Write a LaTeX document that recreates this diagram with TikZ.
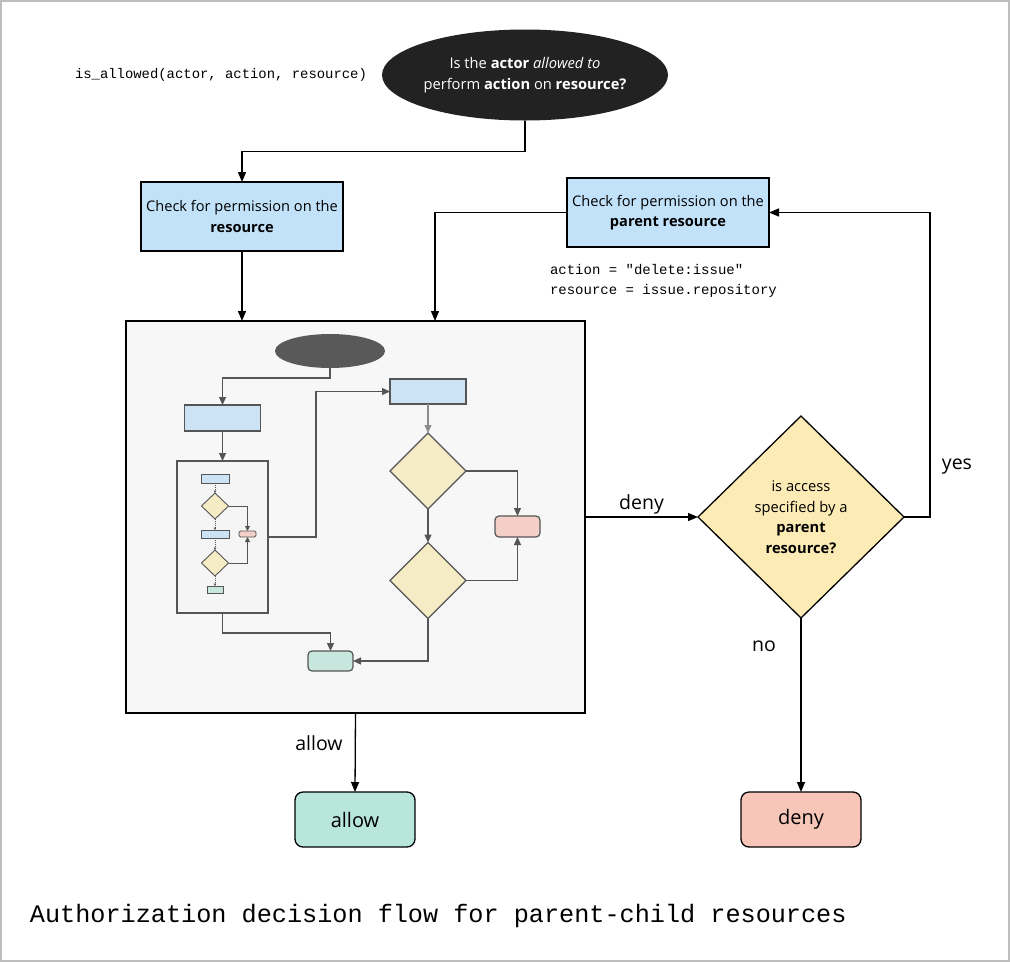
\documentclass[tikz,border=0pt]{standalone}
\usepackage{fontspec}
\setmainfont{Open Sans}
\setmonofont{Liberation Mono}
\usetikzlibrary{shapes.geometric,arrows.meta,calc}
\definecolor{bluebox}{HTML}{C2E2FA}
\definecolor{yellowdia}{HTML}{FDEBB5}
\definecolor{allowfill}{HTML}{B8E6DA}
\definecolor{denyfill}{HTML}{F8C6B8}
\definecolor{bigbg}{HTML}{F7F7F7}
\definecolor{iblue}{HTML}{CCE2F5}
\definecolor{iyellow}{HTML}{F5EBC4}
\definecolor{ired}{HTML}{F3CFC7}
\definecolor{igreen}{HTML}{C6E6DE}
\definecolor{istroke}{HTML}{555555}
\definecolor{frame}{HTML}{BDBDBD}
\begin{document}
\begin{tikzpicture}[x=1pt,y=-1pt,
  every node/.style={inner sep=0pt, outer sep=0pt},
  arr/.style={line width=1.3pt, draw=black, -{Triangle[length=10pt,width=8pt]}},
  mainbox/.style={rectangle, draw=black, line width=1.3pt, fill=bluebox, minimum width=202pt, minimum height=69pt, align=center, font=\fontsize{14.6}{20.5}\selectfont},
  endbox/.style={rectangle, rounded corners=8pt, draw=black, line width=1.3pt, minimum width=120pt, minimum height=55pt, font=\fontsize{20}{24}\selectfont},
  lbl/.style={font=\fontsize{19.5}{23}\selectfont},
  code/.style={font=\ttfamily\fontsize{14}{20}\selectfont, align=left, anchor=west},
  iarr/.style={line width=1.2pt, draw=istroke, -{Triangle[length=8pt,width=7pt]}},
  ismall/.style={line width=0.9pt, draw=istroke, -{Triangle[length=5pt,width=5pt]}},
  idot/.style={line width=0.6pt, draw=istroke, dash pattern=on 1pt off 1pt, -{Triangle[length=2.5pt,width=2.5pt]}},
  irect/.style={rectangle, draw=istroke, line width=1.2pt},
  idia/.style={diamond, draw=istroke, line width=1.2pt, fill=iyellow}
]
\useasboundingbox (0,0) rectangle (1010,962);
\draw[frame, line width=2pt] (1,1) rectangle (1009,961);

% top question
\node[ellipse, fill={rgb,255:red,34;green,34;blue,34}, minimum width=286pt, minimum height=91pt] (q) at (525,75) {};
\node[text=white, align=center, font=\fontsize{14.7}{21}\selectfont] (qt) at (525,75) {Is the \textbf{actor} \textit{allowed to}\\perform \textbf{action} on \textbf{resource?}};
\node[code, font=\ttfamily\fontsize{13.9}{16}\selectfont] (sig) at (75,75) {is\_allowed(actor, action, resource)};

% check boxes
\node[mainbox] (b1) at (242,216.5) {Check for permission on the\\\textbf{resource}};
\node[mainbox] (b2) at (668,212.5) {Check for permission on the\\\textbf{parent resource}};
\node[code] (cd) at (550,281) {action = "delete:issue"\\resource = issue.repository};

% big box
\node[rectangle, draw=black, line width=1.3pt, fill=bigbg, minimum width=459pt, minimum height=392pt] (big) at (355.5,517) {};

% inner flow
\node[ellipse, fill={rgb,255:red,89;green,89;blue,89}, minimum width=110pt, minimum height=34pt] (ie) at (330,351) {};
\node[irect, fill=iblue, minimum width=76pt, minimum height=26pt] (ra) at (222.5,418) {};
\node[irect, fill={rgb,255:red,245;green,245;blue,245}, minimum width=91pt, minimum height=152pt] (sb) at (222.5,537) {};
\node[irect, fill=iblue, minimum width=76pt, minimum height=25pt] (rb) at (428,391.5) {};
\node[idia, minimum width=76pt, minimum height=76pt] (d1) at (428,471) {};
\node[idia, minimum width=76pt, minimum height=76pt] (d2) at (428,580.5) {};
\node[irect, rounded corners=4pt, fill=ired, minimum width=45pt, minimum height=21pt] (rr) at (517.5,526.5) {};
\node[irect, rounded corners=4pt, fill=igreen, minimum width=45pt, minimum height=20pt] (gr) at (330.5,661) {};

% small box contents
\node[irect, line width=0.9pt, fill=iblue, minimum width=28pt, minimum height=9pt] (s1) at (215,478.5) {};
\node[idia, line width=0.9pt, minimum width=27pt, minimum height=26pt] (sd1) at (215,506) {};
\node[irect, line width=0.9pt, fill=iblue, minimum width=28pt, minimum height=8pt] (s2) at (215,534) {};
\node[idia, line width=0.9pt, minimum width=27pt, minimum height=26pt] (sd2) at (215,563) {};
\node[irect, line width=0.9pt, fill=igreen, minimum width=16pt, minimum height=7pt] (sg) at (215,589.5) {};
\node[irect, line width=0.9pt, rounded corners=1.5pt, fill=ired, minimum width=17pt, minimum height=6pt] (sr) at (247.5,534) {};

\draw[idot] (s1.south) -- (sd1.north);
\draw[idot] (sd1.south) -- (s2.north);
\draw[idot] (s2.south) -- (sd2.north);
\draw[idot] (sd2.south) -- (sg.north);
\draw[ismall] (sd1.east) -| (sr.north);
\draw[ismall] (sd2.east) -| (sr.south);

% inner connectors
\draw[iarr] (ie.south) -- ++(0,10) -| (ra.north);
\draw[iarr] (ra.south) -- (sb.north -| ra.south);
\draw[iarr] (sb.east) -- ++(48,0) |- (rb.west);
\draw[iarr, draw={rgb,255:red,140;green,140;blue,140}] (rb.south) -- (d1.north);
\draw[iarr] (d1.south) -- (d2.north);
\draw[iarr] (d1.east) -| (rr.north);
\draw[iarr] (d2.east) -| (rr.south);
\draw[iarr] (d2.south) |- (gr.east);
\draw[iarr] (sb.south) -- ++(0,20) -| (gr.north);

% decision diamond
\node[diamond, draw=black, line width=1.3pt, fill=yellowdia, minimum width=206pt, minimum height=202pt, align=center, font=\fontsize{14.7}{20.5}\selectfont] (dia) at (801,517) {is access\\specified by a\\\textbf{parent}\\\textbf{resource?}};

% end boxes
\node[endbox, fill=allowfill] (allow) at (355,819.5) {allow};
\node[endbox, fill=denyfill] (deny) at (801,819.5) {deny};

% main connectors
\draw[arr] (q.south) -- ++(0,31) -| (b1.north);
\draw[arr] (b1.south) -- (b1.south |- big.north);
\draw[arr] (b2.west) -| ([xshift=309pt]big.north west);
\draw[arr] (big.east) -- (dia.west) node[lbl, midway, above=3pt] (ldeny) {deny};
\draw[arr] (dia.east) -- ++(26,0) |- (b2.east);
\node[lbl] (lyes) at (957,467) {yes};
\draw[arr] (dia.south) -- (deny.north);
\node[lbl] (lno) at (764,646) {no};
\draw[arr] (big.south) -- (allow.north);
\node[lbl] (lallow) at (319,743) {allow};

% caption
\node[anchor=west, font=\ttfamily\fontsize{25.2}{30}\selectfont] (cap) at (30,916) {Authorization decision flow for parent-child resources};
\end{tikzpicture}
\end{document}
